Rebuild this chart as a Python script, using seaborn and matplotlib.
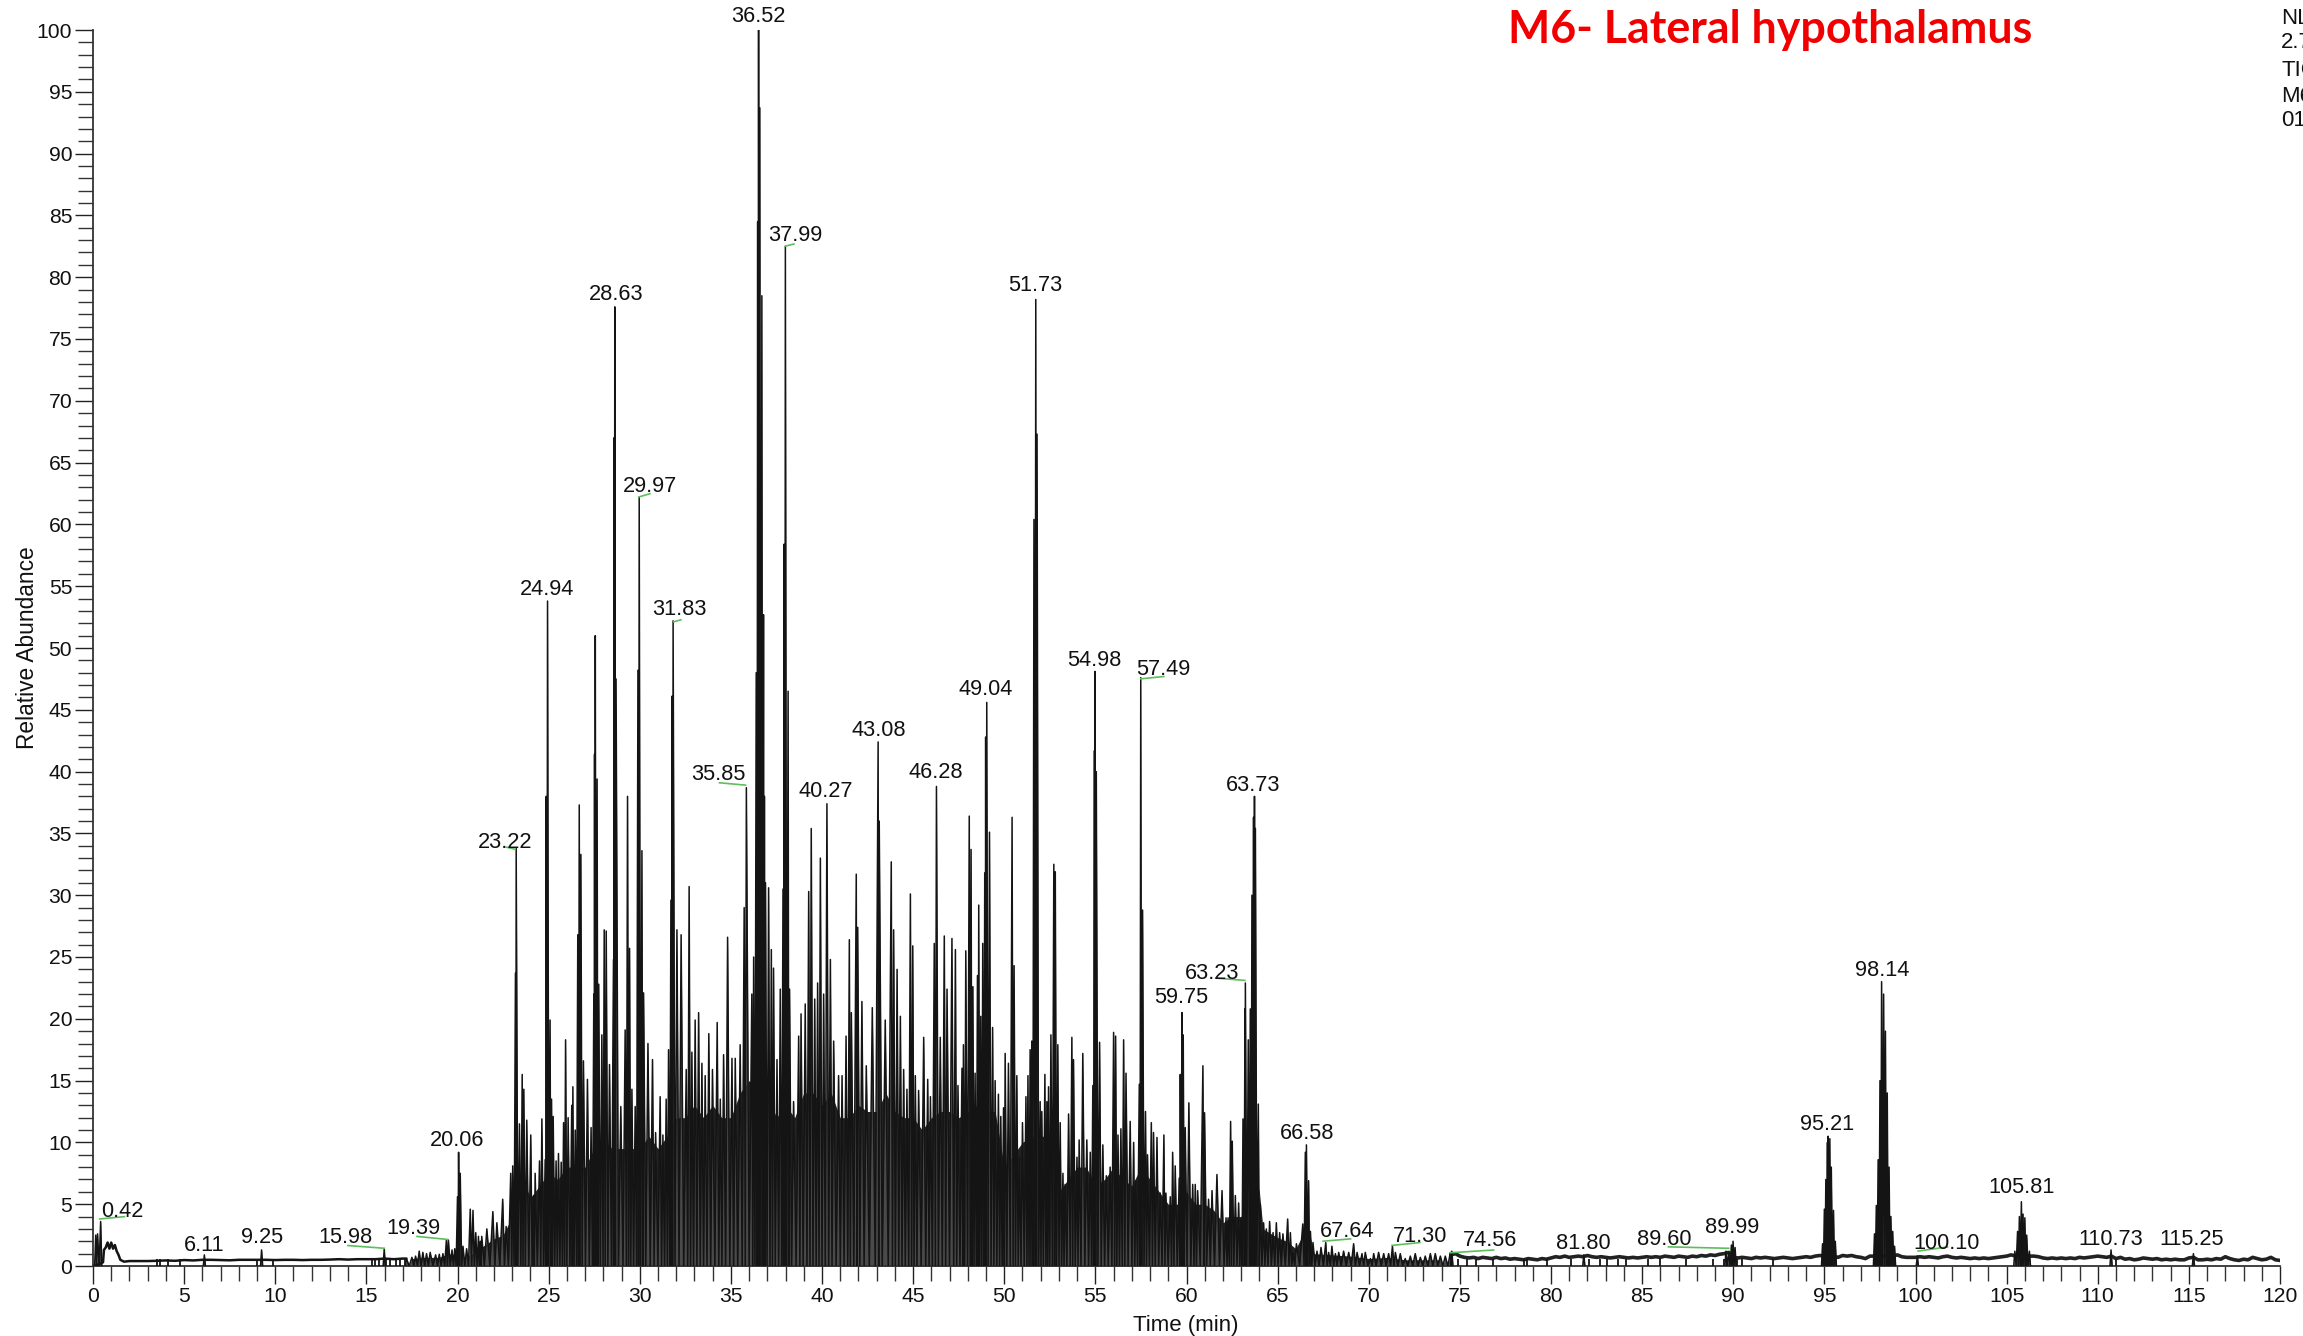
import numpy as np
import matplotlib
matplotlib.use("Agg")
import matplotlib.pyplot as plt
import seaborn as sns

# labelled apexes (retention time, relative abundance)
apex_times = [0.42, 6.11, 9.25, 15.98, 19.39, 20.06, 23.22, 24.94, 28.63, 29.97, 31.83, 35.85, 36.52, 37.99,
              40.27, 43.08, 46.28, 49.04, 51.73, 54.98, 57.49, 59.75, 63.23, 63.73, 66.58, 67.64, 71.30, 74.56,
              81.80, 89.60, 89.99, 95.21, 98.14, 100.10, 105.81, 110.73, 115.25]
apex_heights = [3.6, 0.9, 1.3, 1.4, 2.1, 9.2, 33.8, 53.8, 77.6, 62.2, 52.2, 38.7, 100, 82.5,
                37.4, 42.4, 38.8, 45.6, 78.2, 48.1, 47.6, 20.5, 22.9, 38, 9.8, 1.9, 1.6, 1.2,
                0.9, 1.2, 2.0, 10.5, 23, 0.8, 5.2, 1.3, 1.0]
label_x = [1.61, 6.12, 9.27, 13.86, 17.57, 19.98, 22.64, 24.90, 28.69, 30.54, 32.15, 34.33, 36.50, 38.52,
           40.21, 43.11, 46.25, 48.99, 51.73, 54.96, 58.74, 59.71, 61.40, 63.66, 66.64, 68.82, 72.84, 76.63,
           81.79, 86.22, 89.93, 95.17, 98.15, 101.69, 105.80, 110.72, 115.15]
label_y = [4.64, 1.90, 2.50, 2.50, 3.21, 10.34, 34.5, 54.9, 78.8, 63.3, 53.3, 39.95, 101.3, 83.6,
           38.6, 43.5, 40.1, 46.85, 79.5, 49.2, 48.5, 21.9, 23.9, 39.1, 10.9, 2.97, 2.6, 2.26,
           2.0, 2.38, 3.33, 11.65, 24.1, 2.0, 6.54, 2.38, 2.38]

# leader ticks (x0, y0, x1, y1)
leader_x0 = [0.32, 13.94, 17.73, 22.64, 29.9, 31.83, 34.33, 37.95, 57.45, 61.56, 67.45, 71.23, 74.46, 86.4, 100.1]
leader_y0 = [3.8, 1.66, 2.4, 33.9, 62.2, 52.1, 39.1, 82.5, 47.5, 23.3, 2.0, 1.66, 1.07, 1.55, 1.2]
leader_x1 = [1.77, 16.03, 19.5, 23.2, 30.6, 32.3, 35.85, 38.5, 58.8, 63.25, 69.05, 72.85, 76.9, 89.8, 101.8]
leader_y1 = [4.0, 1.43, 2.14, 33.7, 62.5, 52.3, 38.9, 82.7, 47.7, 23.1, 2.2, 1.9, 1.3, 1.43, 1.55]

# unlabelled side peaks and grass
grass_times = [17.2,17.5,17.7,17.9,18.1,18.3,18.5,18.8,19.0,19.2,19.5,19.7,19.85,20.0,20.15,20.3,20.5,20.7,20.85,21.0,21.15,21.25,
    21.33,21.61,21.94,22.16,22.48,22.67,22.92,23.03,23.18,23.40,23.55,23.64,23.80,24.02,24.17,24.26,24.50,24.63,24.81,24.87,
    25.08,25.16,25.25,25.41,25.54,25.69,25.82,25.93,26.07,26.27,26.33,26.46,26.60,26.68,26.77,26.91,27.13,27.33,27.48,27.52,27.56,27.66,
    27.75,27.92,28.05,28.16,28.34,28.56,28.58,28.70,28.96,29.20,29.33,29.44,29.57,29.75,29.90,30.12,30.21,30.45,30.70,30.87,31.12,31.27,
    31.45,31.58,31.71,31.77,32.04,32.27,32.55,32.71,32.86,33.04,33.23,33.41,33.59,33.79,33.99,34.25,34.42,34.60,34.82,35.06,35.24,35.51,35.73,
    36.15,36.25,36.39,36.47,36.59,36.70,36.79,36.84,36.90,37.07,37.22,37.34,37.53,37.71,37.86,37.92,38.14,38.22,38.44,38.72,38.85,39.08,39.27,
    39.41,39.60,39.76,39.91,40.09,40.46,40.64,40.91,41.10,41.32,41.50,41.61,41.88,41.96,42.19,42.43,42.76,43.14,43.47,43.80,43.93,44.12,44.30,
    44.48,44.66,44.85,44.98,45.12,45.30,45.58,45.80,45.95,46.16,46.49,46.71,46.86,47.13,47.32,47.46,47.68,47.76,47.89,48.08,48.18,48.28,48.40,
    48.53,48.60,48.71,48.82,48.93,48.98,49.19,49.36,49.50,49.68,49.81,49.96,50.05,50.23,50.43,50.54,50.69,50.84,51.00,51.19,51.30,51.42,51.51,
    51.63,51.80,51.97,52.06,52.23,52.34,52.43,52.56,52.72,52.80,52.94,53.07,53.22,53.34,53.53,53.71,53.80,53.99,54.11,54.31,54.53,54.72,54.86,
    54.95,55.05,55.23,55.41,55.60,55.81,56.00,56.11,56.24,56.40,56.55,56.68,56.91,57.10,57.22,57.41,57.59,57.75,57.86,58.07,58.19,58.38,58.56,
    58.76,58.87,59.11,59.24,59.38,59.60,59.66,59.82,59.93,60.13,60.34,60.48,60.61,60.90,60.99,61.21,61.40,61.67,61.95,62.17,62.28,62.42,62.51,
    62.68,62.86,62.99,63.10,63.21,63.39,63.50,63.59,63.68,63.78,63.94,64.05,64.23,64.38,64.56,64.75,64.93,65.11,65.29,65.55,65.70,65.84,66.03,
    66.38,66.52,66.70,66.80,66.94,67.16,67.38,67.80,67.98,68.17,68.35,68.62,68.90,69.17,69.36,69.63,69.81,70.09,70.27,70.54,70.82,71.09,71.46,
    71.73,72.00,72.28,72.55,72.83,73.10,73.38,73.65,73.93,74.20,74.48,
    0.15,0.25,
    89.75,89.90,90.10,
    94.90,95.00,95.08,95.17,95.30,95.38,95.50,95.60,
    97.75,97.85,97.95,98.05,98.25,98.35,98.45,98.55,98.65,98.75,98.85,
    105.45,105.60,105.70,105.90,106.00,106.10,106.25]
grass_heights = [.6,.7,.8,1.2,1.1,1.0,1.1,.9,.95,1.0,2.1,1.3,1.4,5.6,7.5,1.6,1.4,4.6,4.5,2.7,2.4,2.0,
    2.4,3.0,4.4,3.5,5.4,3.2,7.5,8.1,23.7,11.5,15.5,14.3,11.8,10.6,5.7,7.5,8.5,11.9,8.6,38,
    19.9,13.5,12.1,8.5,9.1,8.4,11.6,18.3,12,13,14.5,11,26.8,37.3,33.3,16.6,15.1,11.2,22,41.4,51,39.4,
    22.8,18.7,27.2,27.1,16.3,24.8,67,47.5,12.9,19.1,38,25.7,14.3,12.9,48.2,33.6,22.1,18,16.7,10.8,13.7,10.6,
    13.5,17.5,29.6,46.1,27.2,26.8,15.9,30.7,17.3,19.9,20.5,16.4,15.4,18.8,15.9,19.7,13.5,17.1,26.6,16.8,16.8,17.9,29,
    22,25,48,84.5,93.7,78.5,52.7,38,31,30.6,25.6,24.1,16.7,22.4,30.5,58.4,46.5,22.4,13.3,18.6,20.4,21.2,30.3,
    35.4,21.6,22.9,33,22,24.8,18.2,15.4,15.4,18.6,26.4,20.5,31.7,27.4,21.4,16.2,20.9,36,19.9,32.7,27.2,24,20.2,
    15.9,14.3,30.1,25.9,15.4,14.2,18.5,15.1,13.7,26.1,18.5,26.7,22.4,26.5,25.6,14.6,16,17.9,25.5,36.4,33.7,22.6,15.6,
    23.5,29.2,20.2,26.1,31.8,42.8,35.1,19.3,15,13.9,12.1,12.8,17.2,16.4,36.3,24.3,15.4,8.8,11.6,13.7,15.4,17.5,18.2,
    60.4,67.3,13.3,12.5,15.5,13.3,14.5,18.7,32.5,31.9,17.9,11.6,7.5,6.6,12.3,18.5,16.7,8.8,10.2,17.2,10.2,9.2,14.6,
    41.7,40,18.1,9.8,7.3,8,18.9,18.6,10.6,11.1,18.3,15.6,11.7,10,6.9,14.7,28.8,12.5,9,11.6,10.8,10.4,5.9,
    10.6,5.9,5.6,9.2,8.1,7.1,15.5,18.7,11.2,13.2,6.6,6.6,6.1,16.2,12.4,5.4,6.1,7.4,6.1,3.9,3.9,11.7,10.1,
    5.7,5.1,3.8,11.9,20.8,18.3,20.8,30,36.3,35.4,13.1,5,3.5,3,3.6,2.7,3.5,2.7,2.6,3.8,2.7,1.1,1.8,
    3.4,9.2,6.9,2.8,1.9,1.2,1.5,1.1,1.6,1,1.1,1.2,1.1,1.8,1.1,1,1.1,.6,1,1.1,1,1,1.1,
    1,.6,.8,1,.7,.8,1,1,.8,.8,1.1,
    2.5,2.6,
    1.1,1.7,1.5,
    1.8,4.6,7,10,10.3,8,4.5,2,
    2.6,4.9,8.6,15,22,19,14,8,4,2.8,1.6,
    1.2,2.8,4,4.2,3.9,2.5,1.2]

# height below which the trace reads as solid dark
floor_times = [17.5,18,19,19.5,20,20.5,21,21.5,22,22.5,23,23.2,23.6,24,24.5,25,25.5,26,26.5,27,27.5,28,28.5,29,29.5,30,30.5,31,31.5,32,
    32.5,33,33.5,34,34.5,35,35.5,36,37,37.5,38,38.5,39,39.5,40,40.5,41,41.5,42,42.5,43,43.5,44,44.5,45,45.5,46,46.5,47,47.5,48,48.5,49,49.5,
    50,50.5,51,51.5,52,52.5,53,53.5,54,54.5,55,55.5,56,56.5,57,57.5,58,58.5,59,59.5,60,60.5,61,61.5,62,62.5,63,63.5,64,64.2,65,65.5,66,66.3,66.8,67,68,69,70,71,72,73,74]
floor_heights = [.6,.7,.7,1,.9,.7,1.2,1.7,2.2,2.5,4,5.5,7,5.5,6.5,7.5,7,8,8,8,9.5,10,9.5,9.5,9.5,9.5,10.5,9.5,10.5,12,
    12,13,12,13,12,12,14,15,14,12,13,12,14,14,13,14,12,12,13,12.5,12.5,14,12.5,12,12,11,12,12.5,12.5,12,12.5,13,12.5,12.5,
    8,9,10,10.5,10.5,10.5,6,7,8,8,6.5,7,8,7,6.5,8,7,6,5,5,6,5,5,4.5,3.5,4,4,9,6,3,2.3,2,1.4,2.3,2.3,1,.9,.8,.6,.7,.5,.5,.5]

# quiet stretches of the trace, read every half or quarter minute
early_times = [0,0.1,0.55,0.6,0.7,0.8,0.9,1.0,1.1,1.2,1.3,1.4,1.5,1.7,2,2.5,3,3.5,4,4.5,5,5.5,6,6.5,7,7.5,8,8.5,9,9.5,10,10.5,11,11.5,12,12.5,13,13.5,14,14.5,15,15.5,16,16.5,17,17.2]
early_heights = [0,0,.3,1.3,1.5,1.9,1.4,1.9,1.4,1.7,1.2,.9,.5,.35,.4,.4,.4,.42,.45,.42,.48,.45,.5,.5,.48,.46,.5,.5,.5,.5,.48,.5,.5,.48,.5,.5,.52,.55,.52,.55,.55,.55,.6,.55,.6,.6]
late_heights = [.9,1.0,.8,.7,.65,.7,.6,.7,.65,.6,.7,.6,.65,.55,.6,.55,.5,.6,.55,.5,.6,.55,
    .65,.75,.7,.8,.7,.75,.8,.75,.85,.75,.7,.75,.7,.65,.7,.75,.7,.65,.7,.65,
    .7,.75,.7,.75,.7,.8,.75,.7,.8,.75,.7,.8,.75,.85,.8,.9,.85,.95,1.0,1.1,
    .7,.65,.7,.65,.6,.7,.65,.7,.65,.6,.65,.7,.65,.6,.65,.7,.75,.7,.8,.85,
    .8,.8,.8,.7,.85,.8,.85,.75,.7,.6,.8,.8,.8,.8,.8,.8,.9,.75,.7,.7,
    .7,.75,.7,.75,.7,.65,.75,.8,.7,.65,.7,.65,.6,.65,.6,.65,.6,.65,.7,.75,
    .8,.9,.8,.8,.8,.8,.8,.75,.65,.6,.65,.6,.65,.6,.65,.6,.7,.65,.7,.75,
    .8,.75,.7,.8,.6,.7,.55,.6,.5,.55,.65,.6,.55,.6,.5,.55,.5,.55,.5,.5,
    .65,.7,.5,.5,.55,.5,.6,.55,.75,.6,.5,.45,.55,.5,.7,.6,.5,.55,.7,.5,.45]
dropout_times = [3.5,3.65,4.1,4.75,9.0,9.9,15.3,15.5,15.7,16.1,16.3,16.6,16.85,17.1,
                 74.9,75.4,75.9,76.8,78.5,78.7,79.8,81.1,82.1,82.7,83.1,83.7,84.1,85.3,86.0,87.4,
                 88.9,89.5,89.65,90.2,90.5,92.2,111.0]

x_major = list(range(0, 121, 5))
y_major = list(range(0, 101, 5))
header_lines = ["NL", "2.7", "TIC", "M6", "01"]

sns.set_theme(style="ticks")
plt.rcParams["font.family"] = ["Liberation Sans", "DejaVu Sans"]

W, H = 2303, 1336
fig = plt.figure(figsize=(W / 100, H / 100), dpi=100, facecolor="white")
ax = fig.add_axes([93 / W, 1 - 1266 / H, (2280 - 93) / W, (1266 - 30) / H])
TRACE = "#141414"

# solid lower part of the trace
ax.fill_between(floor_times, 0, floor_heights, color="#222222", lw=0, zorder=1)

# spikes: each apex returns to the baseline before the next one; far-apart apexes stay separate peaks
t = np.array(grass_times + apex_times, dtype=float)
h = np.array(grass_heights + apex_heights, dtype=float)
order = np.argsort(t)
t, h = t[order], h[order]
sx, sy, su = [], [], []
group = 0
for i in range(t.size):
    prev_gap = t[i] - t[i - 1] if i else 99
    next_gap = t[i + 1] - t[i] if i < t.size - 1 else 99
    if prev_gap > 0.6:
        group += 1
        sx.append(t[i] - 0.06); sy.append(0.0); su.append(group)
    sx.append(t[i]); sy.append(h[i]); su.append(group)
    if next_gap > 0.6:
        sx.append(t[i] + 0.06); sy.append(0.0); su.append(group)
    else:
        sx.append(t[i] + next_gap / 2); sy.append(0.0); su.append(group)
sx, sy, su = np.array(sx), np.array(sy), np.array(su)
sns.lineplot(x=sx, y=sy, units=su, sort=False, estimator=None, color=TRACE, lw=1.1, ax=ax, zorder=3)
ax.fill_between(sx, 0, sy, color="#4a4a4a", lw=0, zorder=2)

# quiet trace
sns.lineplot(x=early_times, y=early_heights, sort=False, estimator=None, color=TRACE, lw=1.8, ax=ax, zorder=3)
lt = np.arange(len(late_heights)) * 0.25 + 74.5
sns.lineplot(x=lt, y=late_heights, sort=False, estimator=None, color="#222222", lw=2.6, ax=ax, zorder=2)
ax.vlines(dropout_times, 0, 0.55, color=TRACE, lw=1.3, zorder=3)

# annotations
for x, y, a in zip(label_x, label_y, apex_times):
    ax.annotate(f"{a:.2f}", (x, y), xytext=(0, -1.8), textcoords="offset points", ha="center", va="center",
                fontsize=15.7, color="#111111", annotation_clip=False, zorder=6)
for x0, y0, x1, y1 in zip(leader_x0, leader_y0, leader_x1, leader_y1):
    ax.plot([x0, x1], [y0, y1], color="#5cbf5c", lw=1.2, solid_capstyle="butt", zorder=5)

ax.set_xlim(0, 120)
ax.set_ylim(0, 100)
ax.set_xticks(x_major)
ax.set_yticks(y_major)
ax.set_xticks(range(0, 121), minor=True)
ax.set_yticks(range(0, 101), minor=True)
ax.tick_params(axis="both", which="major", length=13, width=1, color="#222222", labelsize=15.2, pad=2, labelcolor="#111111")
ax.tick_params(axis="both", which="minor", length=10.5, width=1, color="#333333")
for side in ("top", "right"):
    ax.spines[side].set_visible(False)
for side in ("left", "bottom"):
    ax.spines[side].set_color("#333333")
    ax.spines[side].set_linewidth(1.3)
ax.set_xlabel("")
ax.set_ylabel("")

fig.text(1186 / W, 1 - 1325 / H, "Time (min)", ha="center", va="center", fontsize=16, color="#111111")
fig.text(28 / W, 1 - 648 / H, "Relative Abundance", rotation=90, ha="center", va="center", fontsize=16.4, color="#111111")
fig.text(1770 / W, 1 - 30 / H, "M6- Lateral hypothalamus", ha="center", va="center", fontsize=32.2,
         color="#f00000", fontweight="bold", family=["Lato", "DejaVu Sans"])
for line, y in zip(header_lines, [18, 42, 70, 96, 121]):
    fig.text(2281 / W, 1 - y / H, line, ha="left", va="center", fontsize=16, color="#111111")
fig.text(55 / W, 1 + 5 / H, "RT: 0.00 - 120.00", ha="left", va="center", fontsize=11, color="#9a9ae0")

fig.savefig("out.png", dpi=100, facecolor="white")
